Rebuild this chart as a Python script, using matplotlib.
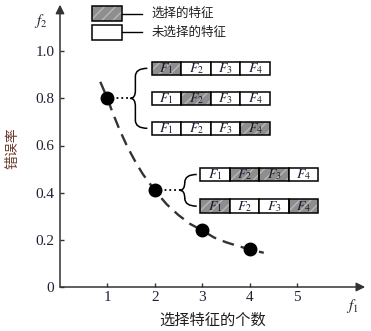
import numpy as np
import matplotlib
matplotlib.use('Agg')
import matplotlib.pyplot as plt
from matplotlib.patches import Rectangle, PathPatch
from matplotlib.path import Path

plt.rcParams['font.family'] = ['Noto Sans CJK SC', 'DejaVu Sans']
plt.rcParams['mathtext.fontset'] = 'stix'
plt.rcParams['hatch.linewidth'] = 1.0

# data
n_features = [1, 2, 3, 4]
error_rate = [0.80, 0.41, 0.24, 0.16]
trend_x = [0.85, 1.0, 1.1, 1.25, 1.4, 1.5, 1.6, 1.75, 2.0, 2.25, 2.5, 2.75,
           3.0, 3.25, 3.5, 3.75, 4.0, 4.3]
trend_y = [0.87, 0.80, 0.745, 0.67, 0.604, 0.565, 0.528, 0.478, 0.41, 0.351,
           0.305, 0.267, 0.24, 0.21, 0.19, 0.174, 0.16, 0.145]
xticks = [1, 2, 3, 4, 5]
yticks = [0, 0.2, 0.4, 0.6, 0.8, 1.0]
ytick_labels = ['0', '0.2', '0.4', '0.6', '0.8', '1.0']
feat_labels = ['$F_1$', '$F_2$', '$F_3$', '$F_4$']
subsets_1 = [[1, 0, 0, 0], [0, 1, 0, 0], [0, 0, 0, 1]]
subsets_2 = [[0, 1, 1, 0], [1, 0, 0, 1]]

GRAY = '#8e8e8e'
HATCH = '#b8b8b8'
AX = '#333333'

fig = plt.figure(figsize=(3.71, 3.31), dpi=100)
ax = fig.add_axes([60/371, 44/331, 308/371, 283/331])
ax.set_xlim(0, 6.5)
ax.set_ylim(0, 1.2)
for s in ax.spines.values():
    s.set_visible(False)

# axes with arrows
ax.annotate('', xy=(6.44, 0), xytext=(0, 0), annotation_clip=False,
            arrowprops=dict(arrowstyle='-|>', lw=1.1, color=AX, mutation_scale=13,
                            shrinkA=0, shrinkB=0))
ax.annotate('', xy=(0, 1.197), xytext=(0, 0), annotation_clip=False,
            arrowprops=dict(arrowstyle='-|>', lw=1.1, color=AX, mutation_scale=13,
                            shrinkA=0, shrinkB=0))

ax.set_xticks(xticks)
ax.set_xticklabels([str(v) for v in xticks], family='Liberation Serif', fontsize=11)
ax.set_yticks(yticks)
ax.set_yticklabels(ytick_labels, family='Liberation Serif', fontsize=11)
ax.tick_params(direction='in', length=3, width=1, color=AX, labelcolor='#1e2333')
ax.tick_params(axis='y', pad=4)
ax.tick_params(axis='x', pad=3)

ax.text(0.497, -0.117, '选择特征的个数', transform=ax.transAxes, ha='center',
        va='center', fontsize=11, color='#1e1e1e')
ax.text(-0.153, 0.49, '错误率', transform=ax.transAxes, ha='center', va='center',
        rotation=90, fontsize=10, color='#6b3a2e')
ax.text(-0.40, 1.13, '$f_2$', ha='center', va='center', fontsize=11,
        color='#1e2333', clip_on=False)
ax.text(6.18, -0.08, '$f_1$', ha='center', va='center', fontsize=11,
        color='#1e2333', clip_on=False)

# trend and points
ax.plot(trend_x, trend_y, color=AX, lw=1.7, dashes=(5, 3), zorder=3)
ax.plot(n_features, error_rate, 'o', color='black', ms=9, zorder=4)

px_x = 1/47.4
px_y = 1/236.0
cell_w = 29.6*px_x
cell_h = 13.5*px_y


def cell(x, y, filled, label=None):
    if filled:
        ax.add_patch(Rectangle((x, y), cell_w, cell_h, facecolor=GRAY,
                               edgecolor=HATCH, hatch='///', lw=0, zorder=5))
    ax.add_patch(Rectangle((x, y), cell_w, cell_h, facecolor='none' if filled else 'white',
                           edgecolor='black', lw=1.1, zorder=6))
    if label:
        ax.text(x + cell_w/2, y + cell_h/2, label, ha='center', va='center',
                fontsize=10, color='#1a1a2e', zorder=7)


def brace(xt, xv, xe, ym, yt, yb, r):
    verts = [(xe, yt), (xv, yt), (xv, yt - r), (xv, ym + r), (xv, ym), (xt, ym),
             (xv, ym), (xv, ym - r), (xv, yb + r), (xv, yb), (xe, yb)]
    codes = [Path.MOVETO, Path.CURVE3, Path.CURVE3, Path.LINETO, Path.CURVE3, Path.CURVE3,
             Path.CURVE3, Path.CURVE3, Path.LINETO, Path.CURVE3, Path.CURVE3]
    ax.add_patch(PathPatch(Path(verts, codes), fc='none', ec='black', lw=1.1, zorder=5))


def group(px, py, subsets, dy, left, tip, vx, end):
    n = len(subsets)
    centers = [py + dy*((n - 1)/2 - i) for i in range(n)]
    for yc, sel in zip(centers, subsets):
        for j, on in enumerate(sel):
            cell(left + j*cell_w, yc - cell_h/2, on, feat_labels[j])
    ax.plot([px, tip], [py, py], ':', color='black', lw=1.3, zorder=3)
    brace(tip, vx, end, py, centers[0], centers[-1], 8*px_y)


group(n_features[0], error_rate[0], subsets_1, 30*px_y,
      n_features[0] + 44.3*px_x, n_features[0] + 23*px_x,
      n_features[0] + 28*px_x, n_features[0] + 40*px_x)
group(n_features[1], error_rate[1], subsets_2, 31.7*px_y,
      n_features[1] + 45.2*px_x, n_features[1] + 25*px_x,
      n_features[1] + 30*px_x, n_features[1] + 42*px_x)

# legend
leg_x = 32*px_x
for k, (filled, txt) in enumerate([(1, '选择的特征'), (0, '未选择的特征')]):
    yc = 1.155 - k*0.08
    x0 = leg_x
    if filled:
        ax.add_patch(Rectangle((x0, yc - cell_h/2), 30*px_x, 15*px_y, facecolor=GRAY,
                               edgecolor=HATCH, hatch='///', lw=0, zorder=5))
    ax.add_patch(Rectangle((x0, yc - cell_h/2), 30*px_x, 15*px_y,
                           facecolor='none' if filled else 'white', edgecolor='black',
                           lw=1.1, zorder=6))
    ax.plot([x0 + 30*px_x, x0 + 50*px_x], [yc + 1*px_y, yc + 1*px_y], color='black', lw=1.0)
    ax.text(x0 + 59.5*px_x, yc + 1*px_y, txt, ha='left', va='center', fontsize=9,
            color='#1e1e1e')

fig.savefig('out.png', dpi=100)
